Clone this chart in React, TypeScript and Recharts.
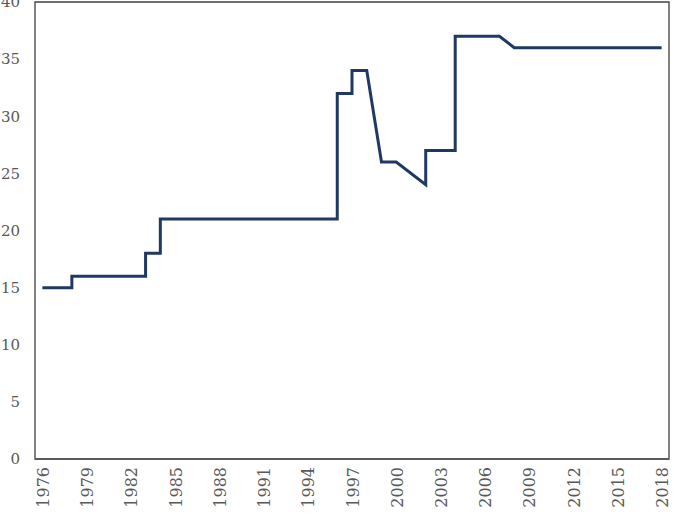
import { LineChart, Line, XAxis, YAxis, ReferenceArea } from 'recharts'

// step points: repeated years make the vertical jumps
const years = [1976, 1978, 1978, 1983, 1983, 1984, 1984, 1996, 1996, 1997, 1997, 1998, 1999, 2000, 2002, 2002, 2004, 2004, 2007, 2008, 2018]
const values = [15, 15, 16, 16, 18, 18, 21, 21, 32, 32, 34, 34, 26, 26, 24, 27, 27, 37, 37, 36, 36]

const xTicks = [1976, 1979, 1982, 1985, 1988, 1991, 1994, 1997, 2000, 2003, 2006, 2009, 2012, 2015, 2018]
const yTicks = [0, 5, 10, 15, 20, 25, 30, 35, 40]

const data = years.map((year, i) => ({ year, value: values[i] }))

const FONT = 'DejaVu Serif'
const TEXT = '#595959'

const YearTick = ({ x, y, payload }: any) => (
  <text
    x={x + 1}
    y={y + 8}
    transform={`rotate(-90, ${x + 1}, ${y + 8})`}
    textAnchor="end"
    dominantBaseline="central"
    fill={TEXT}
    fontFamily={FONT}
    fontSize={16}
  >
    {payload.value}
  </text>
)

const App = () => {
  return (
    <div style={{ position: 'absolute', left: 0, top: 0, width: 674, height: 522, background: '#fff' }}>
      <LineChart width={674} height={522} data={data} margin={{ top: 2, right: 5, left: 0, bottom: 0 }}>
        <XAxis
          dataKey="year"
          type="number"
          domain={[1975.5, 2018.5]}
          ticks={xTicks}
          interval={0}
          tick={<YearTick />}
          tickLine={false}
          tickSize={0}
          tickMargin={0}
          axisLine={{ stroke: '#595959', strokeWidth: 2 }}
          height={63}
        />
        <YAxis
          domain={[0, 40]}
          ticks={yTicks}
          interval={0}
          width={35}
          tickLine={false}
          axisLine={false}
          tickMargin={9}
          tick={{ fill: TEXT, fontFamily: FONT, fontSize: 15 }}
        />
        <ReferenceArea
          x1={1975.5}
          x2={2018.5}
          y1={0}
          y2={40}
          fill="none"
          stroke="#404040"
          strokeWidth={1.3}
        />
        <Line
          type="linear"
          dataKey="value"
          stroke="#203864"
          strokeWidth={3}
          dot={false}
          activeDot={false}
          isAnimationActive={false}
        />
      </LineChart>
    </div>
  )
}

export default App
